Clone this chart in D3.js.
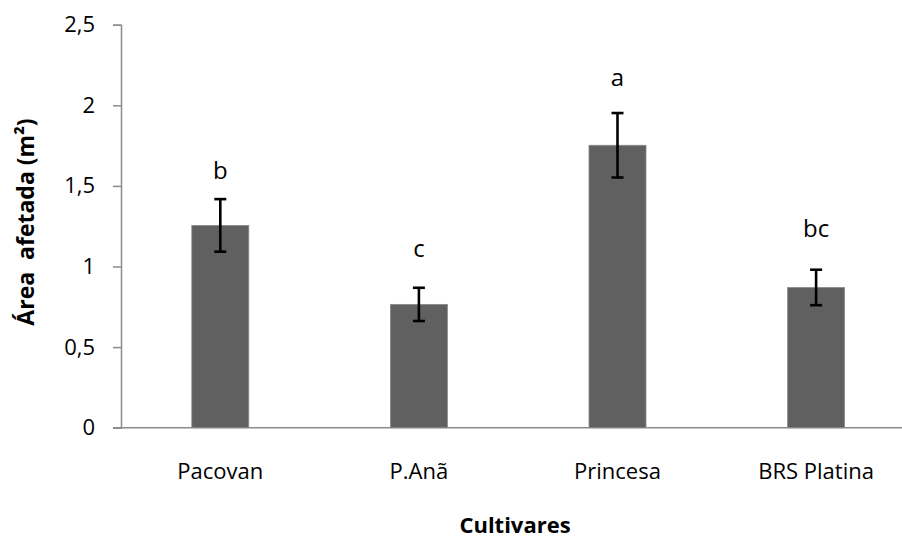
<!DOCTYPE html>
<html>
<head>
<meta charset="utf-8">
<script src="https://cdn.jsdelivr.net/npm/d3@7"></script>
<style>
  body { margin: 0; background: #fff; }
  svg { display: block; font-family: "Open Sans", sans-serif; }
</style>
</head>
<body>
<div></div>
<script>
//data
var cultivares = ["Pacovan", "P.Anã", "Princesa", "BRS Platina"];
var means = [1.255, 0.765, 1.752, 0.870];
var errors = [0.163, 0.103, 0.200, 0.110];
var letters = ["b", "c", "a", "bc"];
//height (in data units) where each letter sits
var letterAt = [1.543, 1.062, 2.120, 1.183];
var yTicks = [0, 0.5, 1, 1.5, 2, 2.5];

//svg size
var width = 902;
var height = 540;

//plot area
var x0 = 121, x1 = 915.4;
var yBottom = 427.7, yTop = 24.7;

var svg = d3.select("div")
            .append("svg")
            .attr("width", width)
            .attr("height", height);

//x scale, one band per cultivar
var xScale = d3.scaleBand()
               .domain(cultivares)
               .range([x0, x1])
               .paddingInner(0.713)
               .paddingOuter(0.3565);

//y scale
var yScale = d3.scaleLinear()
               .domain([0, 2.5])
               .range([yBottom, yTop]);

var fmt = function(d) { return String(d).replace(".", ","); };

//y axis
var yAxis = svg.append("g")
               .attr("transform", "translate(" + x0 + ",0)")
               .call(d3.axisLeft(yScale)
                       .tickValues(yTicks)
                       .tickSize(8)
                       .tickPadding(18)
                       .tickFormat(fmt));
yAxis.select(".domain").attr("stroke", "#8c8c8c").attr("stroke-width", 1.5);
yAxis.selectAll(".tick line").attr("stroke", "#8c8c8c").attr("stroke-width", 1.5);
yAxis.selectAll(".tick text")
     .attr("fill", "#000")
     .style("font-size", "22px")
     .style("font-family", "Open Sans");

//x axis line
svg.append("line")
   .attr("x1", x0 - 8)
   .attr("x2", width)
   .attr("y1", yScale(0))
   .attr("y2", yScale(0))
   .attr("stroke", "#8c8c8c")
   .attr("stroke-width", 1.5);

//bars
svg.selectAll("rect.bar")
   .data(means)
   .enter()
   .append("rect")
   .attr("class", "bar")
   .attr("x", function(d, i) { return xScale(cultivares[i]); })
   .attr("width", xScale.bandwidth())
   .attr("y", function(d) { return yScale(d); })
   .attr("height", function(d) { return yScale(0) - yScale(d); })
   .attr("fill", "#606060")
   .attr("stroke", "#8a8a8a")
   .attr("stroke-width", 0.8);

//error bars
var eb = svg.selectAll("g.err")
            .data(means)
            .enter()
            .append("g")
            .attr("class", "err")
            .attr("stroke", "#000")
            .attr("stroke-width", 2.6);
var cx = function(i) { return xScale(cultivares[i]) + xScale.bandwidth() / 2; };
eb.append("line")
  .attr("x1", function(d, i) { return cx(i); })
  .attr("x2", function(d, i) { return cx(i); })
  .attr("y1", function(d, i) { return yScale(d + errors[i]); })
  .attr("y2", function(d, i) { return yScale(d - errors[i]); });
eb.append("line")
  .attr("x1", function(d, i) { return cx(i) - 6; })
  .attr("x2", function(d, i) { return cx(i) + 6; })
  .attr("y1", function(d, i) { return yScale(d + errors[i]); })
  .attr("y2", function(d, i) { return yScale(d + errors[i]); });
eb.append("line")
  .attr("x1", function(d, i) { return cx(i) - 6; })
  .attr("x2", function(d, i) { return cx(i) + 6; })
  .attr("y1", function(d, i) { return yScale(d - errors[i]); })
  .attr("y2", function(d, i) { return yScale(d - errors[i]); });

//significance letters
svg.selectAll("text.letter")
   .data(letters)
   .enter()
   .append("text")
   .attr("class", "letter")
   .attr("x", function(d, i) { return cx(i); })
   .attr("y", function(d, i) { return yScale(letterAt[i]); })
   .attr("text-anchor", "middle")
   .style("font-size", "24px")
   .text(function(d) { return d; });

//category labels
svg.selectAll("text.cat")
   .data(cultivares)
   .enter()
   .append("text")
   .attr("class", "cat")
   .attr("x", function(d, i) { return cx(i); })
   .attr("y", 478.5)
   .attr("text-anchor", "middle")
   .style("font-size", "22px")
   .text(function(d) { return d; });

//x axis title
svg.append("text")
   .text("Cultivares")
   .attr("x", 515)
   .attr("y", 533)
   .attr("text-anchor", "middle")
   .style("font-size", "22px")
   .style("font-weight", "bold");

//y axis title
svg.append("text")
   .text("Área  afetada (m²)")
   .attr("transform", "translate(34," + 222 + ") rotate(-90)")
   .attr("text-anchor", "middle")
   .style("font-size", "23px")
   .style("font-weight", "bold")
   .style("white-space", "pre")
   .attr("xml:space", "preserve");
</script>
</body>
</html>
